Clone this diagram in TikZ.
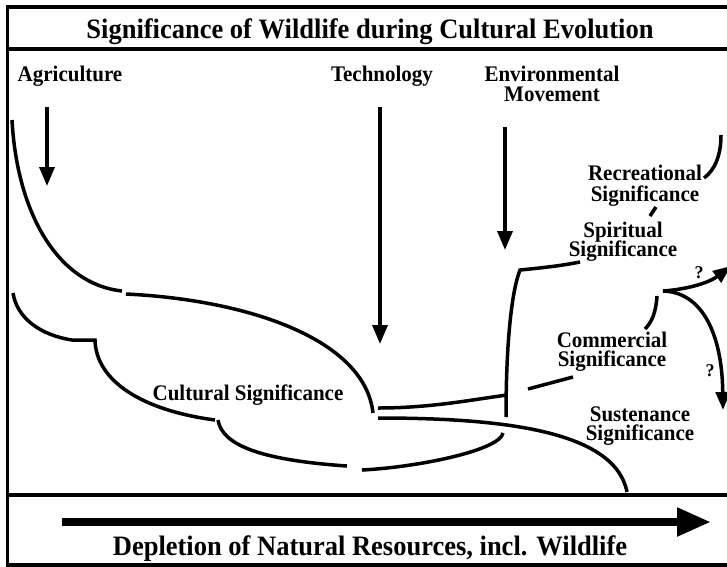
\documentclass[tikz,border=0pt]{standalone}
\usepackage{fontspec}
\setmainfont{Liberation Serif}
\usetikzlibrary{arrows.meta}
\newcommand\tallt[1]{\scalebox{1}[1.06]{#1}}
\tikzset{
  lbl/.style={font=\fontsize{21}{21}\selectfont\bfseries, inner sep=0pt, anchor=base},
  ttl/.style={font=\fontsize{26.5}{26.5}\selectfont\bfseries, inner sep=0pt, anchor=base},
  qm/.style={font=\fontsize{18}{18}\selectfont\bfseries, inner sep=0pt, anchor=base},
  curve/.style={line width=3.5pt, line cap=butt},
  frame/.style={line width=3.5pt},
  arr/.style={line width=3.5pt, -{Triangle[length=19pt,width=15pt]}},
  sarr/.style={line width=3.5pt, -{Triangle[length=18pt,width=14pt]}},
  bigarr/.style={line width=8pt, -{Triangle[length=34pt,width=27pt]}},
}
\begin{document}
\begin{tikzpicture}[x=1pt,y=-1pt]
\useasboundingbox (0,0) rectangle (727,566);
\fill[white] (0,0) rectangle (727,566);
\clip (0,0) rectangle (727,566);
% frame
\draw[frame] (7.5,570) -- (7.5,7) -- (740,7);
\draw[frame] (7.5,49) -- (740,49);
\draw[frame] (7.5,495) -- (740,495);
\draw[frame] (7.5,565) -- (740,565);
% titles
\node[ttl] (title) at (370,38.5) {\tallt{Significance of Wildlife during Cultural Evolution}};
\node[ttl] (dep) at (370,555) {\tallt{Depletion of Natural Resources, incl. Wildlife}};
% labels
\node[lbl] (agri) at (70,81) {\tallt{Agriculture}};
\node[lbl] (tech) at (382,81) {\tallt{Technology}};
\node[lbl] (env1) at (552,81) {\tallt{Environmental}};
\node[lbl] (env2) at (552,101) {\tallt{Movement}};
\node[lbl] (rec1) at (645,180.5) {\tallt{Recreational}};
\node[lbl] (rec2) at (645,201.5) {\tallt{Significance}};
\node[lbl] (spi1) at (623,237) {\tallt{Spiritual}};
\node[lbl] (spi2) at (623,256.5) {\tallt{Significance}};
\node[lbl] (com1) at (612,347) {\tallt{Commercial}};
\node[lbl] (com2) at (612,366) {\tallt{Significance}};
\node[lbl] (sus1) at (640,421) {\tallt{Sustenance}};
\node[lbl] (sus2) at (640,440) {\tallt{Significance}};
\node[lbl] (cul) at (248,400.5) {\tallt{Cultural Significance}};
\node[qm] (q1) at (699,278) {?};
\node[qm] (q2) at (710,376) {?};
% arrow coordinates
\coordinate (agriS) at (47,107);
\coordinate (agriE) at (47,186);
\coordinate (techS) at (380,107);
\coordinate (techE) at (380,344);
\coordinate (envS) at (505,127);
\coordinate (envE) at (505,250);
\coordinate (depS) at (62,522);
\coordinate (depE) at (711,522);
\coordinate (split) at (663,291);
\coordinate (upE) at (731,266);
\coordinate (dnE) at (723,410);
% event arrows
\draw[arr] (agriS) -- (agriE);
\draw[arr] (techS) -- (techE);
\draw[arr] (envS) -- (envE);
\draw[bigarr] (depS) -- (depE);
% split arrows
\draw[sarr] (split) .. controls (690,289) and (710,282) .. (upE);
\draw[sarr] (split) .. controls (700,292) and (722,330) .. (dnE);
% curves
\draw[curve] (12,120) .. controls (17,212) and (57,284) .. (122,291);
\draw[curve] (126,294) .. controls (250,300) and (365,340) .. (373,413);
\draw[curve] (13,293) .. controls (17,318) and (40,335) .. (72,340) -- (95,340) .. controls (96,380) and (140,410) .. (215,420);
\draw[curve] (218,420) .. controls (222,445) and (260,460) .. (347,466);
\draw[curve] (362,470) .. controls (420,467) and (500,450) .. (503,433);
\draw[curve] (378,408) .. controls (430,408) and (470,400) .. (507,395);
\draw[curve] (378,418) .. controls (500,418) and (615,430) .. (627,492);
\draw[curve] (506,417) .. controls (506,340) and (512,290) .. (520,270) .. controls (540,268) and (560,266) .. (580,262);
\draw[curve] (528,389) -- (573,377);
\draw[curve] (657,296) .. controls (656,312) and (652,322) .. (645,329);
\draw[curve] (721,135) .. controls (721,155) and (715,170) .. (704,178);
\draw[curve] (656,207) -- (650,216);
\end{tikzpicture}
\end{document}
